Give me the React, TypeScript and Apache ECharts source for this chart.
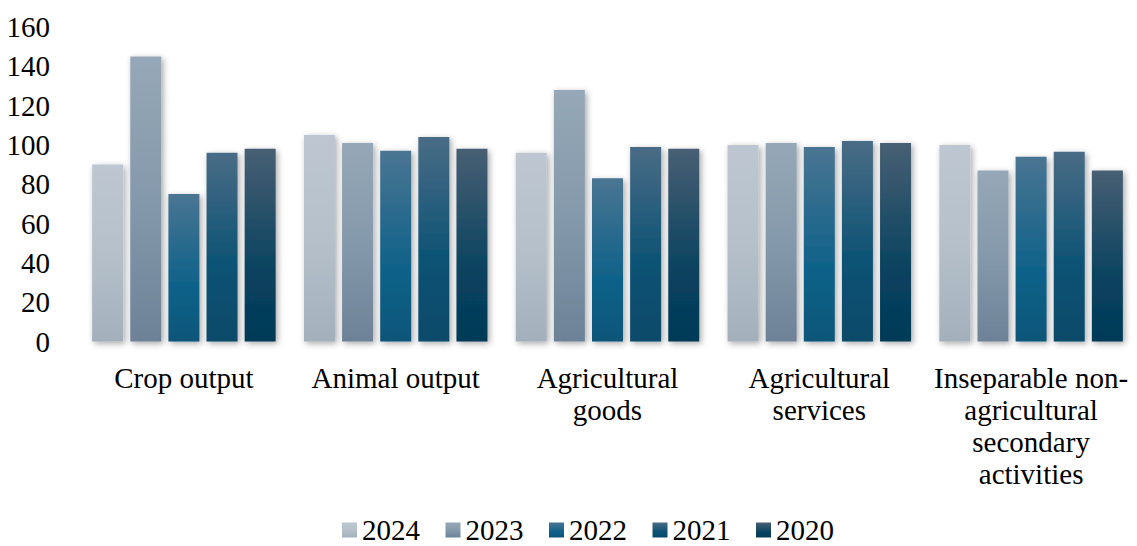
import React, { useEffect, useRef } from "react";
import * as echarts from "echarts";

const categories = [
  "Crop output",
  "Animal output",
  "Agricultural\ngoods",
  "Agricultural\nservices",
  "Inseparable non-\nagricultural\nsecondary\nactivities",
];
const years = ["2024", "2023", "2022", "2021", "2020"];
const v2024 = [90, 105, 96, 100, 100];
const v2023 = [145, 101, 128, 101, 87];
const v2022 = [75, 97, 83, 99, 94];
const v2021 = [96, 104, 99, 102, 96.5];
const v2020 = [98, 98, 98, 101, 87];
const yTicks = { min: 0, max: 160, interval: 20 };

const gradients = [
  [["#bec7d1", 0], ["#b5c0ca", 0.5], ["#a3b0bc", 1]],
  [["#96a8b7", 0], ["#8499ab", 0.5], ["#6d8297", 1]],
  [["#4a7592", 0], ["#11628a", 0.6], ["#0b5679", 1]],
  [["#4a6c86", 0], ["#0c5274", 0.6], ["#084a6a", 1]],
  [["#485f73", 0], ["#08425f", 0.65], ["#043a57", 1]],
];

function grad(stops: any[]) {
  return new echarts.graphic.LinearGradient(
    0, 0, 0, 1,
    stops.map(([c, o]) => ({ offset: o, color: c }))
  );
}

export default function App() {
  const ref = useRef<HTMLDivElement>(null);
  useEffect(() => {
    if (!ref.current) return;
    const chart = echarts.init(ref.current, null, { renderer: "svg" });
    const data = [v2024, v2023, v2022, v2021, v2020];
    const font = "Liberation Serif";
    chart.setOption({
      animation: false,
      textStyle: { fontFamily: font },
      grid: { left: 78, right: 0, top: 27, height: 314.5, containLabel: false },
      legend: {
        data: years,
        left: 342,
        top: 515,
        itemWidth: 15,
        itemHeight: 15,
        itemGap: 25.5,
        icon: "rect",
        padding: 0,
        textStyle: { fontSize: 29, lineHeight: 30, color: "#000", fontFamily: font },
      },
      xAxis: {
        type: "category",
        data: categories,
        axisLine: { lineStyle: { color: "#d4d4d4", width: 2.5, shadowColor: "rgba(0,0,0,0.25)", shadowBlur: 3, shadowOffsetY: 1 } },
        axisTick: { show: false },
        axisLabel: {
          fontSize: 29,
          lineHeight: 32,
          color: "#000",
          fontFamily: font,
          margin: 20,
          interval: 0,
          align: "center",
        },
      },
      yAxis: {
        type: "value",
        min: yTicks.min,
        max: yTicks.max,
        interval: yTicks.interval,
        axisLine: { show: false },
        axisTick: { show: false },
        splitLine: { show: false },
        axisLabel: { fontSize: 29, color: "#000", fontFamily: font, margin: 28 },
      },
      series: years.map((y, i) => ({
        name: y,
        type: "bar",
        data: data[i],
        barWidth: 31,
        barGap: "23%",
        itemStyle: {
          color: grad(gradients[i]),
          shadowColor: "rgba(0,0,0,0.35)",
          shadowBlur: 6,
          shadowOffsetX: 2,
          shadowOffsetY: 2,
        },
      })),
    });
    return () => chart.dispose();
  }, []);
  return (
    <div
      ref={ref}
      style={{ position: "fixed", left: 0, top: 0, width: 1137, height: 546, background: "#fff" }}
    />
  );
}
